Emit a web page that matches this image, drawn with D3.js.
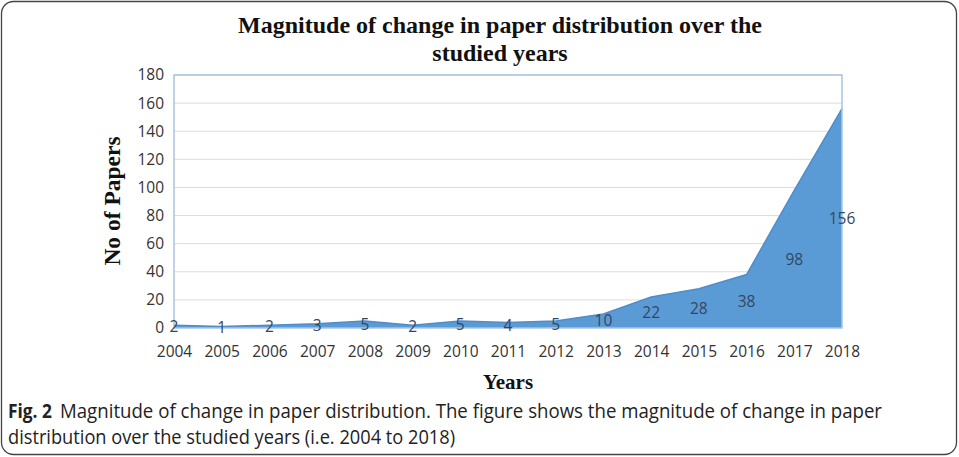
<!DOCTYPE html>
<html><head><meta charset="utf-8">
<script src="https://cdn.jsdelivr.net/npm/d3@7"></script>
<style>body{margin:0;background:#fff}svg{display:block}</style>
</head><body>
<svg id="c" width="959" height="457"></svg>
<script>
const years = ["2004","2005","2006","2007","2008","2009","2010","2011","2012","2013","2014","2015","2016","2017","2018"];
const papers = [2,1,2,3,5,2,5,4,5,10,22,28,38,98,156];
const yTicks = [0,20,40,60,80,100,120,140,160,180];
const titleLines = ["Magnitude of change in paper distribution over the","studied years"];
const captionBold = "Fig. 2";
const captionLines = ["Magnitude of change in paper distribution. The figure shows the magnitude of change in paper","distribution over the studied years (i.e. 2004 to 2018)"];

const svg = d3.select("#c");
svg.append("rect").attr("x",1.5).attr("y",1.5).attr("width",955).attr("height",453)
  .attr("rx",12).attr("fill","#fff").attr("stroke","#444").attr("stroke-width",1.3);

const L=174,R=842,T=75,B=328;
const x = d3.scalePoint().domain(years).range([L,R]);
const y = d3.scaleLinear().domain([0,180]).range([B,T]);
const tickFont = "'Open Sans', sans-serif";

// gridlines
svg.append("g").selectAll("line").data(yTicks.filter(d=>d>0)).join("line")
  .attr("x1",L).attr("x2",R).attr("y1",d=>y(d)).attr("y2",d=>y(d))
  .attr("stroke","#dcdcdc").attr("stroke-width",1);

// area
const area = d3.area().x((d,i)=>x(years[i])).y0(y(0)).y1(d=>y(d));
svg.append("path").datum(papers).attr("d",area).attr("fill","#5b9bd5");
const line = d3.line().x((d,i)=>x(years[i])).y(d=>y(d));
svg.append("path").datum(papers).attr("d",line).attr("fill","none").attr("stroke","#4f8cc9").attr("stroke-width",1.5);

// plot border
svg.append("rect").attr("x",L).attr("y",T).attr("width",R-L).attr("height",B-T)
  .attr("fill","none").attr("stroke","#a9c5e0").attr("stroke-width",1.5);

// y axis
const yAxis = d3.axisLeft(y).tickValues(yTicks).tickSize(0).tickPadding(10);
const gy = svg.append("g").attr("transform",`translate(${L},0)`).call(yAxis);
gy.select(".domain").remove();
gy.selectAll("text").attr("font-family",tickFont).attr("font-size",15.5).attr("fill","#333");

// x axis
const xAxis = d3.axisBottom(x).tickSize(0).tickPadding(18);
const gx = svg.append("g").attr("transform",`translate(0,${B})`).call(xAxis);
gx.select(".domain").remove();
gx.selectAll("text").attr("font-family",tickFont).attr("font-size",15.5).attr("fill","#333");

// data labels
svg.append("g").selectAll("text").data(papers).join("text")
  .attr("x",(d,i)=>x(years[i])).attr("y",d=>y(d/2)).attr("dy","0.35em")
  .attr("text-anchor","middle").attr("font-family",tickFont).attr("font-size",15.5)
  .attr("fill","#34465e").text(d=>d);

// title
svg.append("g").selectAll("text").data(titleLines).join("text")
  .attr("x",500).attr("y",(d,i)=>33+i*28).attr("text-anchor","middle")
  .attr("font-family","'Liberation Serif', 'Times New Roman', serif").attr("font-weight","bold")
  .attr("font-size",24).attr("fill","#111").text(d=>d);

// axis titles
svg.append("text").attr("transform","translate(120,201) rotate(-90)").attr("text-anchor","middle")
  .attr("font-family","'Liberation Serif', serif").attr("font-weight","bold").attr("font-size",23.5)
  .attr("fill","#111").text("No of Papers");
svg.append("text").attr("x",508).attr("y",389).attr("text-anchor","middle")
  .attr("font-family","'Liberation Serif', serif").attr("font-weight","bold").attr("font-size",21)
  .attr("fill","#111").text("Years");

// caption
const cap = svg.append("g").attr("font-family","'Open Sans', sans-serif").attr("font-size",20).attr("fill","#222");
cap.append("text").attr("x",8).attr("y",418).attr("font-weight","bold")
  .attr("textLength",44).attr("lengthAdjust","spacingAndGlyphs").text(captionBold);
cap.append("text").attr("x",60).attr("y",418)
  .attr("textLength",822).attr("lengthAdjust","spacingAndGlyphs").text(captionLines[0]);
cap.append("text").attr("x",8).attr("y",444)
  .attr("textLength",447).attr("lengthAdjust","spacingAndGlyphs").text(captionLines[1]);
</script>
</body></html>
